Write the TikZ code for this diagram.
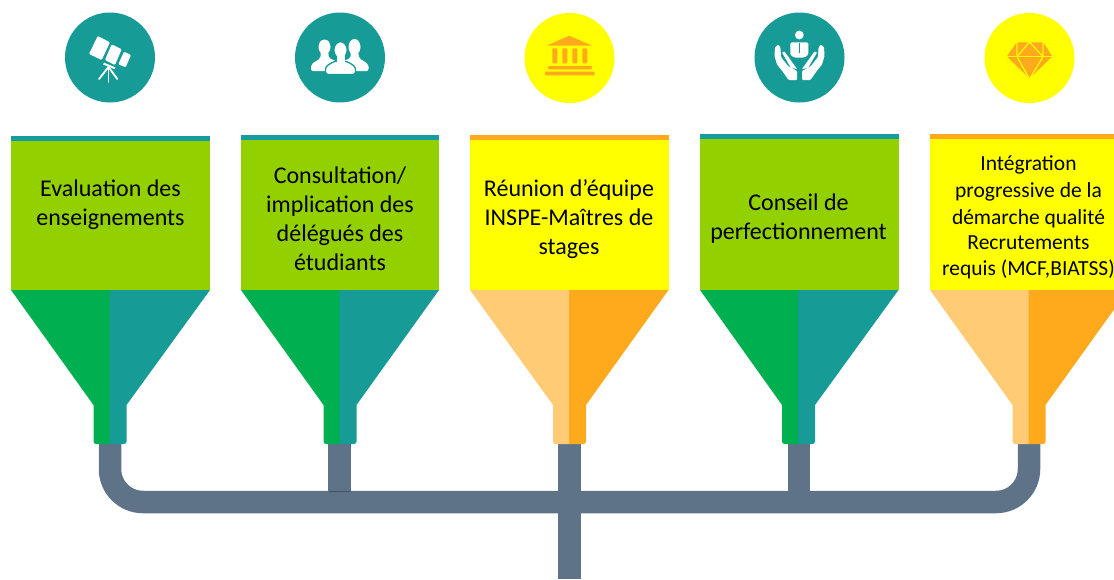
\documentclass[tikz,border=0pt]{standalone}
\usepackage{fontspec}
\setmainfont{Carlito}
\definecolor{teal1}{HTML}{169B97}
\definecolor{tealbar}{HTML}{169B9F}
\definecolor{green1}{HTML}{00B050}
\definecolor{lime1}{HTML}{92D000}
\definecolor{yellow1}{HTML}{FFFF00}
\definecolor{orange1}{HTML}{FFA91C}
\definecolor{orange2}{HTML}{FFCB74}
\definecolor{pipe1}{HTML}{5F7388}
\tikzset{
  x=1pt,y=-1pt,
  disc/.style={circle,minimum size=90pt,inner sep=0pt,draw=none},
  label1/.style={anchor=center,align=center,text=black,font=\fontsize{24}{29}\selectfont,inner sep=0pt},
  label2/.style={anchor=center,align=center,text=black,font=\fontsize{21.5}{27}\selectfont,inner sep=0pt},
  pipeline/.style={draw=pipe1,line width=22.5pt},
}
% #1 split x, #2 left edge, #3 right edge, #4 top of bar, #5 bar colour, #6 box colour, #7 left funnel, #8 right funnel
\newcommand{\funnelcol}[8]{%
  \fill[#5] (#2,#4) rectangle (#3,#4+6);
  \fill[#6] (#2,#4+5) rectangle (#3,290);
  \fill[#8] (#3,290) -- (#1-.5,290) -- (#1-.5,444)
     [rounded corners=2.5pt] -- (#1+17,444) [sharp corners] -- (#1+17,405) -- cycle;
  \fill[#7] (#2,290) -- (#1,290) -- (#1,444)
     [rounded corners=2.5pt] -- (#1-16,444) [sharp corners] -- (#1-16,405) -- cycle;
}
\begin{document}
\begin{tikzpicture}
\useasboundingbox (0,0) rectangle (1114,579);
\clip (0,0) rectangle (1114,579);

% connectors (behind the funnels)
\coordinate (p1) at (110,440);
\coordinate (p2) at (339.5,440);
\coordinate (p3) at (569.5,440);
\coordinate (p4) at (799,440);
\coordinate (p5) at (1029,440);
\coordinate (bus) at (569.5,502);
\coordinate (outlet) at (569.5,579);
\draw[pipeline,rounded corners=33pt] (p1) |- (bus) -| (p5);
\draw[pipeline] (p2) -- (p2 |- bus);
\draw[pipeline] (p4) -- (p4 |- bus);
\draw[pipeline] (p3) -- (outlet);
\draw[black!45!pipe1,line width=.5pt,opacity=.6] (328.5,491) -- (351,491);

% funnels
\funnelcol{109.5}{11}{210}{136}{tealbar}{lime1}{green1}{teal1}
\funnelcol{339.5}{241}{439}{135}{tealbar}{lime1}{green1}{teal1}
\funnelcol{569}{470}{668.5}{135}{orange1}{yellow1}{orange2}{orange1}
\funnelcol{798}{700}{898.5}{134}{tealbar}{lime1}{green1}{teal1}
\funnelcol{1028.5}{930}{1128}{134}{orange1}{yellow1}{orange2}{orange1}

% labels
\node[label1] (t1) at (110.5,205) {Evaluation des\\enseignements};
\node[label1] (t2) at (340,218.5) {Consultation/\\implication des\\délégués des\\étudiants};
\node[label1] (t3) at (569,219) {Réunion d’équipe\\INSPE-Maîtres de\\stages};
\node[label1] (t4) at (798.5,218.5) {Conseil de\\perfectionnement};
\node[label2] (t5) at (1028.5,217) {Intégration\\progressive de la\\démarche qualité\\[-2pt]Recrutements\\[-1pt]requis (MCF,BIATSS)};

% discs
\node[disc,fill=teal1] (d1) at (110,57.5) {};
\node[disc,fill=teal1] (d2) at (340,57.5) {};
\node[disc,fill=yellow1] (d3) at (569.5,58) {};
\node[disc,fill=teal1] (d4) at (799.5,57.5) {};
\node[disc,fill=yellow1] (d5) at (1029.5,58) {};

% telescope
\begin{scope}[rounded corners=1pt]
\fill[white] (97.7,36) -- (110,42.3) -- (101.7,60) -- (89,54) -- cycle;
\fill[white] (111.7,44.3) -- (121.7,49.3) -- (115,65) -- (105,60) -- cycle;
\fill[white] (124,51.7) -- (131,55) -- (125.7,67.3) -- (118.3,64.3) -- cycle;
\end{scope}
\draw[white,line width=2pt] (103.5,63.5) -- (115,68.3);
\draw[white,line width=1.8pt,line cap=round] (108.5,67) -- (108.5,82);
\draw[white,line width=1.8pt,line cap=round] (108.5,67) -- (99,79);
\draw[white,line width=1.8pt,line cap=round] (108.5,67) -- (117.3,79);

% people
\fill[white] (324.5,47) ellipse (6 and 7.5);
\fill[white] (354.5,47) ellipse (6 and 8);
\fill[white,rounded corners=2pt] (311,71) -- (311,64.5) -- (316,61) -- (320.5,58.5) -- (320.5,52) -- (328.5,52) -- (328.5,58) -- (334,60) -- (340,64) -- (340,71) -- cycle;
\fill[white,rounded corners=2pt] (341,71) -- (341,64) -- (345,60) -- (350.5,58.5) -- (350.5,52) -- (358.5,52) -- (359,58.5) -- (364,61) -- (368.5,64.5) -- (368.5,71) -- cycle;
\draw[teal1,line width=1.3pt,fill=white,rounded corners=2.5pt] (325.5,74.5) -- (325.5,67) -- (331,63) -- (336,61) -- (345,61) -- (350,63) -- (355.5,67) -- (355.5,74.5) -- cycle;
\draw[teal1,line width=1.1pt,fill=white] (340.5,50) ellipse (6.6 and 8.2);
\fill[white] (336.5,53) rectangle (344.5,63);

% temple
\begin{scope}[orange1]
\fill (569.3,35.7) -- (592.3,45.7) -- (546.7,45.7) -- cycle;
\fill[rounded corners=1pt] (552.3,48.3) rectangle (557.3,63.3);
\fill[rounded corners=1pt] (562.3,48.3) rectangle (567.3,63.3);
\fill[rounded corners=1pt] (572.3,48.3) rectangle (577.3,63.3);
\fill[rounded corners=1pt] (582.3,48.3) rectangle (587.3,63.3);
\fill[rounded corners=1pt] (548,66) rectangle (592,69.3);
\fill[rounded corners=1pt] (545,71.7) rectangle (594.7,75.3);
\end{scope}

% caring hands
\fill[white] (799.3,35) circle (4.4);
\fill[white,rounded corners=1.5pt] (790.3,42.3) -- (808.3,42.3) -- (808.3,55) -- (804,57.7) -- (794.5,57.7) -- (790.3,55) -- cycle;
\draw[teal1,line width=.8pt] (799.3,43) -- (799.3,53);
\fill[white,rounded corners=1pt] (775,47) -- (778.5,44.5) -- (780.5,48) -- (781,57) -- (788,66) -- (797,71) -- (797,80) -- (788.5,80) -- (783,72) -- (777,64.5) -- (774.5,56) -- cycle;
\fill[white,rounded corners=.5pt] (782,52.5) -- (784.5,51.5) -- (797,69) -- (791,68) -- cycle;
\begin{scope}[xshift=1599pt,xscale=-1]
\fill[white,rounded corners=1pt] (775,47) -- (778.5,44.5) -- (780.5,48) -- (781,57) -- (788,66) -- (797,71) -- (797,80) -- (788.5,80) -- (783,72) -- (777,64.5) -- (774.5,56) -- cycle;
\fill[white,rounded corners=.5pt] (782,52.5) -- (784.5,51.5) -- (797,69) -- (791,68) -- cycle;
\end{scope}

% gem
\fill[orange1] (1016.7,42.3) -- (1043.3,42.3) -- (1052.3,56.5) -- (1029.5,78.3) -- (1006.7,56.5) -- cycle;
\draw[yellow1,line width=1.2pt] (1006,56.7) -- (1053,56.7);
\draw[yellow1,line width=1.2pt] (1017,42) -- (1017,56.7) -- (1029.5,79);
\draw[yellow1,line width=1.2pt] (1043,42) -- (1043,56.7) -- (1029.5,79);
\draw[yellow1,line width=1.2pt] (1017,56.7) -- (1029.5,42) -- (1043,56.7);
\end{tikzpicture}
\end{document}
